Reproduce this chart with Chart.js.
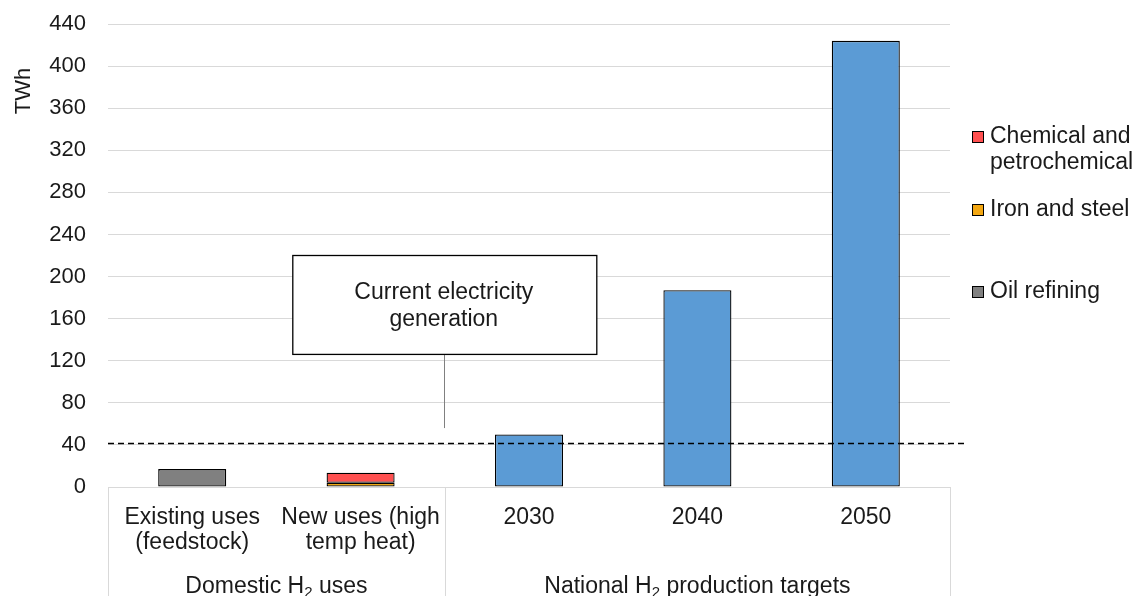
<!DOCTYPE html>
<html>
<head>
<meta charset="utf-8">
<script src="https://cdn.jsdelivr.net/npm/chart.js@4"></script>
<style>
  html, body { margin: 0; padding: 0; background: #fff; }
  #wrap { width: 1139px; height: 596px; position: relative; }
</style>
</head>
<body>
<div id="wrap"><canvas id="h2-chart"></canvas></div>
<script>
// categories and values (TWh)
const categories = [['Existing uses', '(feedstock)'], ['New uses (high', 'temp heat)'], '2030', '2040', '2050'];
const groups = ['Domestic H|2| uses', 'National H|2| production targets'];
const groupSpans = [[0, 1], [2, 4]];
const oilRefining = [17, null, null, null, null];
const ironSteel = [null, 4, null, null, null];
const chemical = [null, 9.5, null, null, null];
const targets = [null, null, 50, 187, 424];
const currentGeneration = 42;
const yTicks = { min: 0, max: 440, step: 40 };

const FONT = '"Liberation Sans", Arial, sans-serif';
const GRID = '#d9d9d9';
const TEXT = '#1a1a1a';

const legendItems = [
    { text: ['Chemical and', 'petrochemical'], color: '#FF5050', y: 137 },
    { text: ['Iron and steel'], color: '#F3A712', y: 210 },
    { text: ['Oil refining'], color: '#808080', y: 292 }
];

// draws group labels, table lines, dashed reference line, call-out box and legend
const extras = {
    id: 'extras',
    afterDraw(chart) {
        const c = chart.ctx;
        const x = chart.scales.x;
        const y = chart.scales.y;
        const area = chart.chartArea;
        const bottom = chart.height;

        // category table lines
        c.save();
        c.strokeStyle = GRID;
        c.lineWidth = 1;
        const dividers = [area.left, x.getPixelForValue(1.5), area.right];
        dividers.forEach(px => {
            c.beginPath();
            c.moveTo(Math.round(px) + 0.5, area.bottom);
            c.lineTo(Math.round(px) + 0.5, bottom);
            c.stroke();
        });

        // group labels with subscript 2
        c.fillStyle = TEXT;
        c.textBaseline = 'middle';
        groups.forEach((g, i) => {
            const parts = g.split('|');
            const cx = (x.getPixelForValue(groupSpans[i][0] - 0.5) + x.getPixelForValue(groupSpans[i][1] + 0.5)) / 2;
            const big = '23px ' + FONT, small = '15px ' + FONT;
            c.font = big;
            const w0 = c.measureText(parts[0]).width;
            const w2 = c.measureText(parts[2]).width;
            c.font = small;
            const w1 = c.measureText(parts[1]).width;
            let sx = cx - (w0 + w1 + w2) / 2;
            const ty = 587;
            c.textAlign = 'left';
            c.font = big;
            c.fillText(parts[0], sx, ty);
            c.font = small;
            c.fillText(parts[1], sx + w0, ty + 6);
            c.font = big;
            c.fillText(parts[2], sx + w0 + w1, ty);
        });

        // current electricity generation dashed line
        const gy = Math.round(y.getPixelForValue(currentGeneration)) + 0.5;
        c.strokeStyle = '#000';
        c.lineWidth = 1.3;
        c.setLineDash([6, 4]);
        c.beginPath();
        c.moveTo(area.left, gy);
        c.lineTo(area.right + 14, gy);
        c.stroke();
        c.setLineDash([]);

        // call-out box
        const bx = x.getPixelForValue(1.5);
        const top = y.getPixelForValue(220);
        const bot = y.getPixelForValue(126);
        c.strokeStyle = '#808080';
        c.lineWidth = 1;
        c.beginPath();
        c.moveTo(Math.round(bx) - 0.5, bot);
        c.lineTo(Math.round(bx) - 0.5, y.getPixelForValue(56));
        c.stroke();
        c.fillStyle = '#fff';
        c.fillRect(bx - 152, top, 304, bot - top);
        c.strokeStyle = '#000';
        c.lineWidth = 1.3;
        c.strokeRect(bx - 152, top, 304, bot - top);
        c.fillStyle = TEXT;
        c.font = '23px ' + FONT;
        c.textAlign = 'center';
        c.fillText('Current electricity', bx - 1, top + 37);
        c.fillText('generation', bx - 1, top + 64);

        // legend
        c.textAlign = 'left';
        legendItems.forEach(item => {
            c.fillStyle = item.color;
            c.fillRect(972, item.y - 6, 12, 12);
            c.strokeStyle = '#000';
            c.lineWidth = 1;
            c.strokeRect(972.5, item.y - 5.5, 11, 11);
            c.fillStyle = TEXT;
            item.text.forEach((t, i) => c.fillText(t, 990, item.y + i * 26));
        });

        // axis title
        c.font = '22px ' + FONT;
        c.translate(24, 91);
        c.rotate(-Math.PI / 2);
        c.textAlign = 'center';
        c.fillText('TWh', 0, 0);
        c.restore();
    }
};

const barStyle = { borderColor: '#000', borderWidth: 1.3, borderSkipped: false, stack: 's' };

new Chart(document.getElementById('h2-chart'), {
    type: 'bar',
    data: {
        labels: categories,
        datasets: [
            Object.assign({ label: 'Oil refining', data: oilRefining, backgroundColor: '#808080' }, barStyle),
            Object.assign({ label: 'Iron and steel', data: ironSteel, backgroundColor: '#F3A712' }, barStyle),
            Object.assign({ label: 'Chemical and petrochemical', data: chemical, backgroundColor: '#FF5050' }, barStyle),
            Object.assign({ label: 'Targets', data: targets, backgroundColor: '#5B9BD5' }, barStyle)
        ]
    },
    options: {
        responsive: true,
        maintainAspectRatio: false,
        animation: false,
        layout: { padding: { left: 0, right: 189, top: 24, bottom: 0 } },
        datasets: { bar: { categoryPercentage: 1, barPercentage: 0.404 } },
        plugins: { legend: { display: false }, tooltip: { enabled: false } },
        scales: {
            x: {
                stacked: true,
                grid: { display: false },
                border: { display: true, color: GRID, width: 1 },
                ticks: { color: TEXT, font: { family: FONT, size: 23, lineHeight: 1.1 }, padding: 10, maxRotation: 0, autoSkip: false },
                afterFit(scale) { scale.height = 109; scale.paddingLeft = 0; scale.paddingRight = 0; }
            },
            y: {
                stacked: true,
                min: yTicks.min,
                max: yTicks.max,
                grid: { color: GRID, drawTicks: false },
                border: { display: false },
                ticks: { stepSize: yTicks.step, color: TEXT, font: { family: FONT, size: 22 }, padding: 22 },
                afterFit(scale) { scale.width = 108; scale.paddingTop = 0; scale.paddingBottom = 0; }
            }
        }
    },
    plugins: [extras]
});
</script>
</body>
</html>
